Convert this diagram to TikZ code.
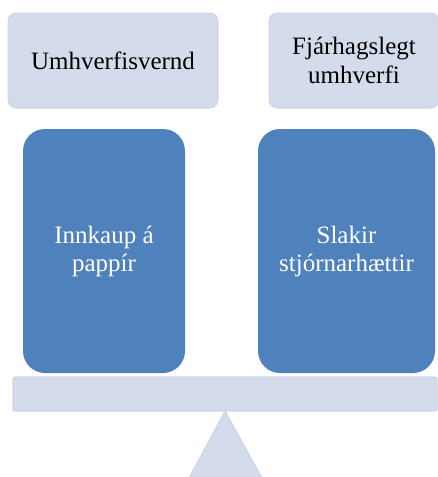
\documentclass[tikz,border=0pt]{standalone}
\usepackage{fontspec}
\setmainfont{Liberation Serif}
\definecolor{lightbox}{HTML}{D4DBEB}
\definecolor{lightedge}{HTML}{CDD5E8}
\definecolor{bluebox}{HTML}{4F81BD}
\tikzset{
  topbox/.style={rectangle, rounded corners=8pt, fill=lightbox, draw=lightedge, line width=1pt,
    align=center, text=black, font=\fontsize{25}{29}\selectfont, inner sep=0pt},
  weightbox/.style={rectangle, rounded corners=22pt, fill=bluebox, draw=none,
    align=center, text=white, font=\fontsize{25}{28}\selectfont, inner sep=0pt},
  beambox/.style={rectangle, rounded corners=2pt, fill=lightbox, draw=lightedge, line width=1.2pt, inner sep=0pt},
  fulcrum/.style={fill=lightbox, draw=lightedge, line width=1pt}
}
\begin{document}
\begin{tikzpicture}[x=1pt,y=-1pt]
\useasboundingbox (0,0) rectangle (437,477);
\node[topbox, minimum width=210pt, minimum height=95pt] (env) at (113,60.5) {Umhverfisvernd};
\node[topbox, minimum width=170pt, minimum height=95pt] (fin) at (354,60.5) {Fjárhagslegt\\umhverfi};
\node[weightbox, minimum width=162pt, minimum height=244pt] (paper) at (104,251) {Innkaup á\\pappír};
\node[weightbox, minimum width=177pt, minimum height=244pt] (mgmt) at (346.5,251) {Slakir\\stjórnarhættir};
\node[beambox, minimum width=424pt, minimum height=34pt] (beam) at (225,394) {};
\coordinate (apex) at (225,411);
\coordinate (bl) at (189,478);
\coordinate (br) at (262,478);
\path[fulcrum] (apex) -- (br) -- (bl) -- cycle;
\end{tikzpicture}
\end{document}
